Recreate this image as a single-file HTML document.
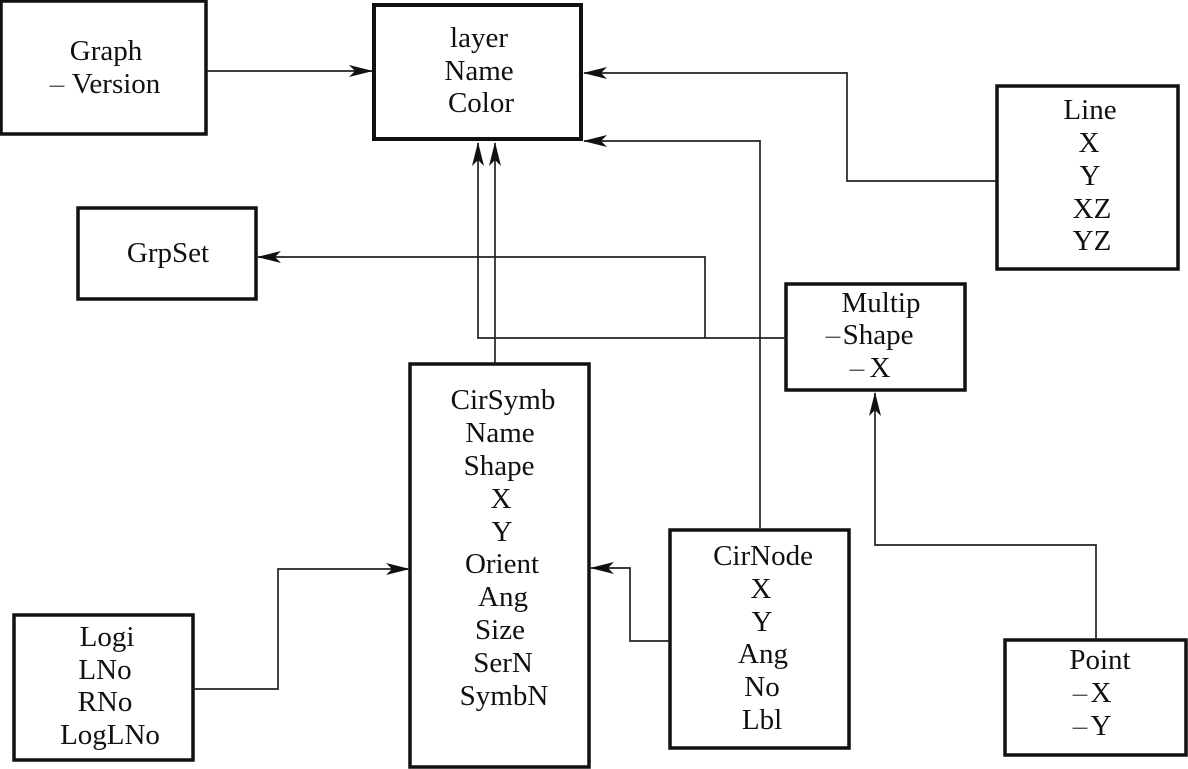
<!DOCTYPE html>
<html><head><meta charset="utf-8"><style>
html,body{margin:0;padding:0;background:#fff;width:1188px;height:769px;overflow:hidden}
svg{display:block}
text{font-family:"Liberation Serif",serif;font-size:29px;fill:#111;text-anchor:middle}
text.d{fill:#555}
rect{fill:none;stroke:#111}
.c{fill:none;stroke:#222;stroke-width:1.7}
.a{fill:#111;stroke:none}
</style></head><body>
<svg width="1188" height="769" viewBox="0 0 1188 769">
<g stroke-width="3.5">
<rect x="1" y="1" width="205" height="133" stroke-width="3.5"/>
<rect x="374" y="5" width="207" height="134" stroke-width="4"/>
<rect x="78" y="208" width="178" height="91" stroke-width="3.5"/>
<rect x="997" y="86" width="181" height="183" stroke-width="3.5"/>
<rect x="786" y="284" width="179" height="106" stroke-width="3.5"/>
<rect x="410" y="364" width="179" height="403" stroke-width="3.5"/>
<rect x="670" y="530" width="179" height="218" stroke-width="3.5"/>
<rect x="14" y="615" width="179" height="145" stroke-width="3.5"/>
<rect x="1005" y="640" width="181" height="115" stroke-width="3.5"/>
</g>
<path class="c" d="M207 71H372"/>
<path class="c" d="M996 181H847V73H584"/>
<path class="c" d="M760 530V141H584"/>
<path class="c" d="M786 338H478V143"/>
<path class="c" d="M705 338V257H258"/>
<path class="c" d="M495 364V143"/>
<path class="c" d="M193 689H278V569H408"/>
<path class="c" d="M670 641H630V568H591"/>
<path class="c" d="M1096 640V545H875V393"/>
<path class="a" d="M373 71L349 65L355 71L349 77Z"/>
<path class="a" d="M583 73L607 67L601 73L607 79Z"/>
<path class="a" d="M583 141L607 135L601 141L607 147Z"/>
<path class="a" d="M257 257L281 251L275 257L281 263Z"/>
<path class="a" d="M478 142L472 166L478 160L484 166Z"/>
<path class="a" d="M495 142L489 166L495 160L501 166Z"/>
<path class="a" d="M410 569L386 563L392 569L386 575Z"/>
<path class="a" d="M590 568L614 562L608 568L614 574Z"/>
<path class="a" d="M875 392L869 416L875 410L881 416Z"/>
<text x="106" y="60">Graph</text>
<text class="d" x="57" y="93">–</text>
<text x="116" y="93">Version</text>
<text x="479" y="47">layer</text>
<text x="479" y="80">Name</text>
<text x="481" y="112">Color</text>
<text x="168" y="262">GrpSet</text>
<text x="1090" y="119">Line</text>
<text x="1089" y="152">X</text>
<text x="1090" y="185">Y</text>
<text x="1092" y="218">XZ</text>
<text x="1092" y="250">YZ</text>
<text x="881" y="312">Multip</text>
<text class="d" x="833" y="344">–</text>
<text x="878" y="344">Shape</text>
<text class="d" x="857" y="377">–</text>
<text x="880" y="377">X</text>
<text x="503" y="409">CirSymb</text>
<text x="500" y="442">Name</text>
<text x="499" y="475">Shape</text>
<text x="501" y="508">X</text>
<text x="502" y="541">Y</text>
<text x="502" y="573">Orient</text>
<text x="503" y="606">Ang</text>
<text x="500" y="639">Size</text>
<text x="503" y="672">SerN</text>
<text x="504" y="705">SymbN</text>
<text x="763" y="565">CirNode</text>
<text x="761" y="598">X</text>
<text x="762" y="631">Y</text>
<text x="763" y="663">Ang</text>
<text x="762" y="696">No</text>
<text x="762" y="729">Lbl</text>
<text x="107" y="646">Logi</text>
<text x="105" y="679">LNo</text>
<text x="105" y="711">RNo</text>
<text x="110" y="744">LogLNo</text>
<text x="1100" y="669">Point</text>
<text class="d" x="1080" y="702">–</text>
<text x="1101" y="702">X</text>
<text class="d" x="1080" y="735">–</text>
<text x="1101" y="735">Y</text>
</svg>
</body></html>
